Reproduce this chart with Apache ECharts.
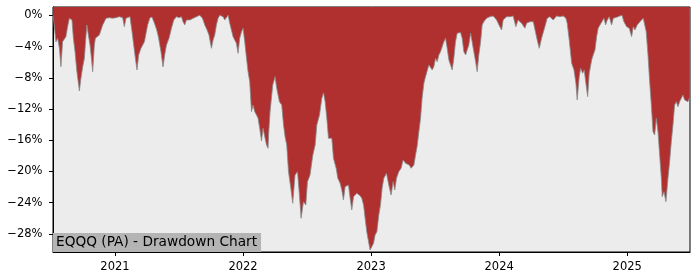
<!DOCTYPE html>
<html>
<head>
<meta charset="utf-8">
<script src="https://cdn.jsdelivr.net/npm/echarts@6/dist/echarts.min.js"></script>
<style>
html,body{margin:0;padding:0;background:#fff;}
#chart{width:700px;height:280px;}
</style>
</head>
<body>
<div id="chart"></div>
<script>
// Decimal-year positions of the samples
const years = [
  2020.517,2020.527,2020.539,2020.552,2020.566,2020.578,2020.591,2020.605,2020.617,2020.630,
  2020.644,2020.656,2020.664,2020.675,2020.688,2020.701,2020.711,2020.722,2020.734,2020.748,
  2020.761,2020.773,2020.781,2020.792,2020.805,2020.816,2020.826,2020.839,2020.847,2020.857,
  2020.878,2020.891,2020.904,2020.917,2020.930,2020.943,2020.956,2020.982,2021.008,2021.034,
  2021.060,2021.073,2021.086,2021.099,2021.117,2021.133,2021.146,2021.159,2021.172,2021.185,
  2021.203,2021.216,2021.230,2021.255,2021.273,2021.289,2021.308,2021.326,2021.341,2021.359,
  2021.375,2021.388,2021.402,2021.422,2021.441,2021.459,2021.480,2021.500,2021.519,2021.531,
  2021.545,2021.558,2021.570,2021.584,2021.597,2021.636,2021.662,2021.683,2021.701,2021.719,
  2021.734,2021.753,2021.766,2021.779,2021.792,2021.805,2021.818,2021.844,2021.857,2021.870,
  2021.883,2021.896,2021.909,2021.922,2021.935,2021.948,2021.961,2021.974,2021.988,2022.000,
  2022.013,2022.027,2022.039,2022.052,2022.066,2022.078,2022.091,2022.105,2022.117,2022.130,
  2022.144,2022.156,2022.170,2022.183,2022.195,2022.201,2022.211,2022.232,2022.250,2022.263,
  2022.284,2022.302,2022.316,2022.328,2022.341,2022.355,2022.373,2022.388,2022.406,2022.425,
  2022.438,2022.453,2022.472,2022.490,2022.503,2022.523,2022.545,2022.563,2022.576,2022.597,
  2022.615,2022.628,2022.641,2022.654,2022.667,2022.680,2022.693,2022.706,2022.727,2022.740,
  2022.758,2022.771,2022.784,2022.797,2022.810,2022.823,2022.836,2022.849,2022.863,2022.875,
  2022.888,2022.902,2022.914,2022.927,2022.941,2022.953,2022.966,2022.980,2022.992,2023.005,
  2023.019,2023.031,2023.045,2023.060,2023.073,2023.086,2023.099,2023.120,2023.138,2023.156,
  2023.172,2023.185,2023.198,2023.216,2023.234,2023.250,2023.269,2023.281,2023.297,2023.313,
  2023.334,2023.347,2023.359,2023.373,2023.386,2023.398,2023.412,2023.425,2023.438,2023.451,
  2023.464,2023.477,2023.490,2023.503,2023.516,2023.529,2023.542,2023.555,2023.568,2023.581,
  2023.594,2023.607,2023.620,2023.633,2023.646,2023.659,2023.672,2023.685,2023.698,2023.711,
  2023.724,2023.738,2023.750,2023.763,2023.777,2023.789,2023.802,2023.816,2023.828,2023.841,
  2023.855,2023.867,2023.880,2023.902,2023.927,2023.953,2023.980,2024.005,2024.019,2024.031,
  2024.058,2024.084,2024.097,2024.109,2024.130,2024.148,2024.175,2024.201,2024.214,2024.240,
  2024.266,2024.279,2024.297,2024.313,2024.331,2024.357,2024.375,2024.396,2024.422,2024.448,
  2024.474,2024.500,2024.521,2024.531,2024.547,2024.566,2024.584,2024.599,2024.609,2024.625,
  2024.636,2024.652,2024.664,2024.677,2024.691,2024.703,2024.722,2024.734,2024.748,2024.761,
  2024.773,2024.787,2024.800,2024.818,2024.831,2024.844,2024.859,2024.878,2024.891,2024.917,
  2024.943,2024.959,2024.974,2024.995,2025.016,2025.034,2025.047,2025.060,2025.078,2025.099,
  2025.125,2025.138,2025.148,2025.162,2025.175,2025.188,2025.201,2025.214,2025.227,2025.240,
  2025.253,2025.266,2025.273,2025.287,2025.302,2025.318,2025.331,2025.344,2025.357,2025.370,
  2025.383,2025.396,2025.409,2025.422,2025.435,2025.448,2025.461,2025.474,2025.486
];
// Drawdown in percent
const drawdown = [
  0,-0.18,-3.38,-2.94,-4.23,-6.58,-3.38,-3.16,-2.74,-1.46,
  -0.38,-0.31,-0.60,-2.94,-4.66,-7.00,-7.22,-9.69,-8.07,-6.58,
  -5.51,-2.74,-1.24,-2.52,-3.80,-5.51,-7.22,-3.80,-2.94,-2.80,
  -2.52,-1.88,-1.24,-0.82,-0.38,-0.60,-0.31,-0.38,-0.31,-0.18,
  -0.31,-1.46,-0.38,-0.22,-0.18,-2.10,-3.80,-5.51,-7.00,-5.08,
  -4.23,-4.02,-3.38,-1.24,-0.31,-0.22,-1.02,-1.88,-2.94,-4.66,
  -6.62,-5.08,-3.80,-2.94,-1.66,-0.60,-0.18,-0.31,-0.18,-0.82,
  -1.24,-0.60,-0.82,-0.60,-0.38,-0.18,0,-0.38,-1.24,-1.88,
  -2.52,-4.23,-3.16,-2.52,-1.24,-0.38,0,-0.18,-0.60,-0.38,
  0,-1.02,-1.88,-2.74,-2.94,-3.58,-4.87,-2.94,-2.10,-1.66,
  -3.38,-5.51,-7.22,-8.50,-12.34,-11.49,-12.34,-12.77,-13.19,-14.47,
  -16.09,-14.47,-14.26,-16.61,-17.03,-14.90,-12.34,-8.92,-7.86,-9.35,
  -11.06,-11.49,-14.05,-15.54,-16.61,-20.03,-22.15,-24.07,-20.45,-20.03,
  -22.59,-25.99,-23.87,-24.29,-21.31,-20.45,-17.89,-16.61,-14.05,-12.77,
  -10.63,-9.91,-11.06,-13.19,-15.75,-15.54,-15.75,-18.31,-19.59,-20.87,
  -21.51,-22.37,-23.65,-21.95,-22.15,-21.73,-23.43,-24.93,-23.23,-23.01,
  -22.79,-23.01,-23.10,-23.43,-24.29,-25.99,-27.71,-28.99,-30.05,-29.83,
  -29.19,-28.13,-27.71,-25.57,-24.29,-22.15,-20.87,-20.23,-21.73,-23.01,
  -21.31,-22.37,-20.87,-20.03,-19.59,-18.53,-18.95,-18.74,-19.17,-19.59,
  -19.17,-17.89,-16.82,-14.90,-13.19,-10.63,-8.71,-7.86,-7.64,-6.36,
  -6.15,-7.00,-6.58,-5.51,-5.94,-5.08,-4.66,-4.87,-3.38,-2.94,
  -4.23,-5.72,-5.94,-7.00,-5.51,-3.38,-2.30,-2.10,-2.20,-2.94,
  -4.66,-5.08,-4.44,-3.80,-2.30,-2.52,-4.66,-5.94,-7.22,-5.08,
  -3.38,-1.24,-0.82,-0.38,-0.18,-0.09,-0.60,-1.46,-1.88,-0.60,
  -0.18,-0.18,-0.38,-0.09,-1.46,-0.60,-1.02,-1.66,-1.02,-0.82,
  -0.82,-0.60,-3.16,-4.23,-2.94,-1.46,-0.38,-0.18,-0.60,-0.09,
  -0.18,-0.09,-0.38,-1.02,-3.16,-6.15,-7.00,-8.71,-10.84,-7.86,
  -6.79,-7.43,-7.00,-8.71,-10.42,-7.43,-5.72,-5.08,-4.44,-2.74,
  -1.66,-1.24,-1.02,-0.38,-1.24,-0.60,-0.18,-1.24,-0.38,-0.26,
  -0.09,0,-0.82,-1.46,-1.66,-2.74,-1.46,-1.88,-1.24,-0.82,
  -0.38,-0.18,-2.10,-5.08,-8.50,-11.49,-14.90,-15.33,-13.19,-14.90,
  -17.89,-20.87,-23.23,-22.59,-23.87,-20.87,-18.74,-16.18,-14.05,-11.49,
  -11.06,-11.70,-11.06,-10.63,-10.20,-10.84,-10.63,-11.06,-10.59
];
const yearTicks = [2021, 2022, 2023, 2024, 2025];
const pctTicks = [0, -4, -8, -12, -16, -20, -24, -28];
const titleText = 'EQQQ (PA) - Drawdown Chart';

const seriesData = years.map((y, i) => [y, drawdown[i]]);
const FONT = 'DejaVu Sans';

const chart = echarts.init(document.getElementById('chart'), null, {renderer: 'canvas'});
chart.setOption({
  animation: false,
  backgroundColor: '#ffffff',
  title: {
    text: titleText,
    left: 53,
    bottom: 28,
    padding: [2, 4, 2, 3],
    backgroundColor: '#b4b4b4',
    textStyle: {fontFamily: FONT, fontSize: 13.7, fontWeight: 'normal', color: '#000', lineHeight: 15}
  },
  grid: {
    left: 53, right: 10, top: 7, bottom: 28,
    outerBoundsMode: 'none',
    show: true, backgroundColor: '#ececec', borderColor: '#000', borderWidth: 1
  },
  xAxis: {
    type: 'value',
    min: 2020.516, max: 2025.49,
    axisLine: {show: true, onZero: false, lineStyle: {color: '#000', width: 1}},
    axisTick: {show: true, inside: false, length: 4, customValues: yearTicks, lineStyle: {color: '#000'}},
    axisLabel: {customValues: yearTicks, margin: 9, fontFamily: FONT, fontSize: 11.5, color: '#000',
      formatter: v => String(Math.round(v))},
    splitLine: {show: false}
  },
  yAxis: {
    type: 'value',
    min: -30.31, max: 1.06,
    axisLine: {show: true, onZero: false, lineStyle: {color: '#000', width: 1}},
    axisTick: {show: true, inside: false, length: 4, customValues: pctTicks, lineStyle: {color: '#000'}},
    axisLabel: {customValues: pctTicks, margin: 10.5, fontFamily: FONT, fontSize: 11.5, color: '#000',
      formatter: v => (Math.round(v) === 0 ? '0' : '\u2212' + Math.abs(Math.round(v))) + '%'},
    splitLine: {show: false}
  },
  series: [{
    type: 'line',
    data: seriesData,
    showSymbol: false,
    symbol: 'none',
    lineStyle: {color: '#8a8a8a', width: 0.8},
    areaStyle: {color: '#b03030', opacity: 1, origin: 'end'},
    z: 2
  }]
});
</script>
</body>
</html>
